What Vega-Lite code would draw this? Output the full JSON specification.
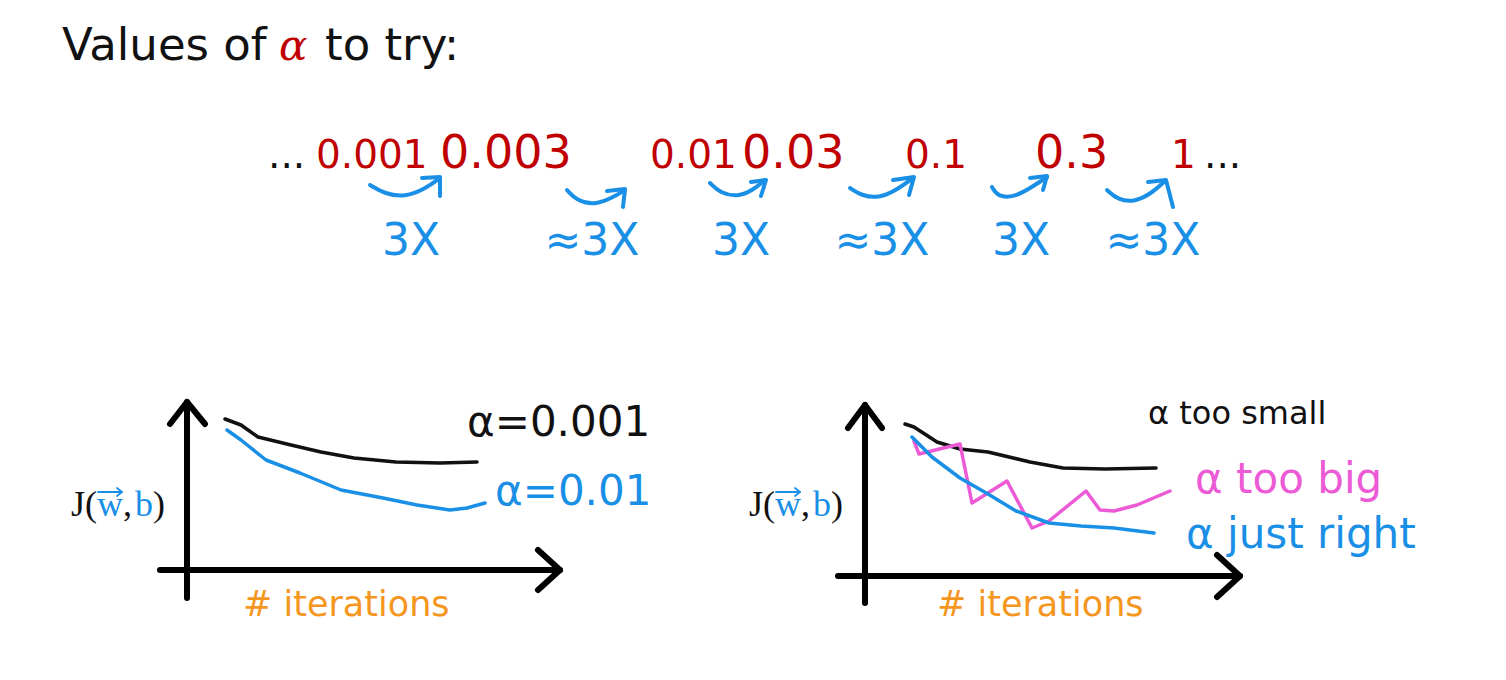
{
  "$schema": "https://vega.github.io/schema/vega-lite/v6.json",
  "width": 1506,
  "height": 680,
  "padding": 0,
  "autosize": {"type": "fit", "contains": "padding"},
  "background": "white",
  "config": {"view": {"stroke": null}},
  "datasets": {
    "texts": [
      {"g": "title", "role": "text", "t": "Values of", "x": 62, "y": 60},
      {"g": "title", "role": "text", "t": "to try:", "x": 325, "y": 60},
      {"g": "titleAlpha", "role": "alpha", "t": "α", "x": 279, "y": 60},
      {"g": "typed", "role": "text", "t": "...", "x": 268, "y": 168},
      {"g": "typed", "role": "alpha", "t": "0.001", "x": 316, "y": 168},
      {"g": "typed", "role": "alpha", "t": "0.01", "x": 650, "y": 168},
      {"g": "typed", "role": "alpha", "t": "0.1", "x": 905, "y": 168},
      {"g": "typed", "role": "alpha", "t": "1", "x": 1171, "y": 168},
      {"g": "typed", "role": "text", "t": "...", "x": 1204, "y": 168},
      {"g": "hand", "role": "alpha", "t": "0.003", "x": 440, "y": 168},
      {"g": "hand", "role": "alpha", "t": "0.03", "x": 742, "y": 168},
      {"g": "hand", "role": "alpha", "t": "0.3", "x": 1035, "y": 168},
      {"g": "step", "role": "step", "t": "3X", "x": 411, "y": 255},
      {"g": "step", "role": "step", "t": "≈3X", "x": 592, "y": 255},
      {"g": "step", "role": "step", "t": "3X", "x": 741, "y": 255},
      {"g": "step", "role": "step", "t": "≈3X", "x": 882, "y": 255},
      {"g": "step", "role": "step", "t": "3X", "x": 1021, "y": 255},
      {"g": "step", "role": "step", "t": "≈3X", "x": 1153, "y": 255},
      {"g": "cost", "role": "text", "t": "J(", "x": 71, "y": 516},
      {"g": "cost", "role": "param", "t": "w", "x": 97, "y": 516},
      {"g": "cost", "role": "text", "t": ",", "x": 123, "y": 516},
      {"g": "cost", "role": "param", "t": "b", "x": 135, "y": 516},
      {"g": "cost", "role": "text", "t": ")", "x": 153, "y": 516},
      {"g": "cost", "role": "text", "t": "J(", "x": 749, "y": 516},
      {"g": "cost", "role": "param", "t": "w", "x": 775, "y": 516},
      {"g": "cost", "role": "text", "t": ",", "x": 801, "y": 516},
      {"g": "cost", "role": "param", "t": "b", "x": 813, "y": 516},
      {"g": "cost", "role": "text", "t": ")", "x": 831, "y": 516},
      {"g": "iter", "role": "iter", "t": "# iterations", "x": 243, "y": 616},
      {"g": "iter", "role": "iter", "t": "# iterations", "x": 937, "y": 616},
      {"g": "note", "role": "text", "t": "α=0.001", "x": 467, "y": 436},
      {"g": "note", "role": "step", "t": "α=0.01", "x": 495, "y": 505},
      {"g": "note", "role": "big", "t": "α too big", "x": 1195, "y": 493},
      {"g": "note", "role": "step", "t": "α just right", "x": 1186, "y": 548},
      {"g": "noteSmall", "role": "text", "t": "α too small", "x": 1148, "y": 424}
    ],
    "curves": [
      {"s": "L001", "role": "text", "i": 0, "x": 225, "y": 419},
      {"s": "L001", "role": "text", "i": 1, "x": 241, "y": 425},
      {"s": "L001", "role": "text", "i": 2, "x": 258, "y": 437},
      {"s": "L001", "role": "text", "i": 3, "x": 291, "y": 445},
      {"s": "L001", "role": "text", "i": 4, "x": 321, "y": 452},
      {"s": "L001", "role": "text", "i": 5, "x": 354, "y": 458},
      {"s": "L001", "role": "text", "i": 6, "x": 396, "y": 462},
      {"s": "L001", "role": "text", "i": 7, "x": 440, "y": 463},
      {"s": "L001", "role": "text", "i": 8, "x": 477, "y": 462},
      {"s": "L01", "role": "step", "i": 0, "x": 227, "y": 430},
      {"s": "L01", "role": "step", "i": 1, "x": 241, "y": 440},
      {"s": "L01", "role": "step", "i": 2, "x": 266, "y": 460},
      {"s": "L01", "role": "step", "i": 3, "x": 300, "y": 473},
      {"s": "L01", "role": "step", "i": 4, "x": 341, "y": 490},
      {"s": "L01", "role": "step", "i": 5, "x": 383, "y": 498},
      {"s": "L01", "role": "step", "i": 6, "x": 417, "y": 505},
      {"s": "L01", "role": "step", "i": 7, "x": 450, "y": 510},
      {"s": "L01", "role": "step", "i": 8, "x": 467, "y": 508},
      {"s": "L01", "role": "step", "i": 9, "x": 485, "y": 503},
      {"s": "Rsmall", "role": "text", "i": 0, "x": 905, "y": 424},
      {"s": "Rsmall", "role": "text", "i": 1, "x": 914, "y": 427},
      {"s": "Rsmall", "role": "text", "i": 2, "x": 937, "y": 442},
      {"s": "Rsmall", "role": "text", "i": 3, "x": 960, "y": 449},
      {"s": "Rsmall", "role": "text", "i": 4, "x": 988, "y": 452},
      {"s": "Rsmall", "role": "text", "i": 5, "x": 1030, "y": 462},
      {"s": "Rsmall", "role": "text", "i": 6, "x": 1063, "y": 468},
      {"s": "Rsmall", "role": "text", "i": 7, "x": 1105, "y": 469},
      {"s": "Rsmall", "role": "text", "i": 8, "x": 1156, "y": 468},
      {"s": "Rbig", "role": "big", "i": 0, "x": 914, "y": 441},
      {"s": "Rbig", "role": "big", "i": 1, "x": 919, "y": 454},
      {"s": "Rbig", "role": "big", "i": 2, "x": 960, "y": 444},
      {"s": "Rbig", "role": "big", "i": 3, "x": 972, "y": 503},
      {"s": "Rbig", "role": "big", "i": 4, "x": 1007, "y": 481},
      {"s": "Rbig", "role": "big", "i": 5, "x": 1032, "y": 528},
      {"s": "Rbig", "role": "big", "i": 6, "x": 1049, "y": 521},
      {"s": "Rbig", "role": "big", "i": 7, "x": 1086, "y": 491},
      {"s": "Rbig", "role": "big", "i": 8, "x": 1100, "y": 510},
      {"s": "Rbig", "role": "big", "i": 9, "x": 1114, "y": 511},
      {"s": "Rbig", "role": "big", "i": 10, "x": 1137, "y": 505},
      {"s": "Rbig", "role": "big", "i": 11, "x": 1170, "y": 491},
      {"s": "Rright", "role": "step", "i": 0, "x": 912, "y": 437},
      {"s": "Rright", "role": "step", "i": 1, "x": 932, "y": 457},
      {"s": "Rright", "role": "step", "i": 2, "x": 960, "y": 478},
      {"s": "Rright", "role": "step", "i": 3, "x": 988, "y": 494},
      {"s": "Rright", "role": "step", "i": 4, "x": 1016, "y": 511},
      {"s": "Rright", "role": "step", "i": 5, "x": 1049, "y": 523},
      {"s": "Rright", "role": "step", "i": 6, "x": 1081, "y": 526},
      {"s": "Rright", "role": "step", "i": 7, "x": 1114, "y": 528},
      {"s": "Rright", "role": "step", "i": 8, "x": 1154, "y": 533}
    ],
    "axes": [
      {"p": "Ly", "i": 0, "x": 187, "y": 402},
      {"p": "Ly", "i": 1, "x": 187, "y": 598},
      {"p": "Lyh", "i": 0, "x": 170, "y": 424},
      {"p": "Lyh", "i": 1, "x": 187, "y": 402},
      {"p": "Lyh", "i": 2, "x": 205, "y": 424},
      {"p": "Lx", "i": 0, "x": 160, "y": 570},
      {"p": "Lx", "i": 1, "x": 560, "y": 570},
      {"p": "Lxh", "i": 0, "x": 538, "y": 550},
      {"p": "Lxh", "i": 1, "x": 560, "y": 570},
      {"p": "Lxh", "i": 2, "x": 538, "y": 590},
      {"p": "Ry", "i": 0, "x": 865, "y": 405},
      {"p": "Ry", "i": 1, "x": 865, "y": 603},
      {"p": "Ryh", "i": 0, "x": 848, "y": 428},
      {"p": "Ryh", "i": 1, "x": 865, "y": 405},
      {"p": "Ryh", "i": 2, "x": 882, "y": 428},
      {"p": "Rx", "i": 0, "x": 838, "y": 576},
      {"p": "Rx", "i": 1, "x": 1240, "y": 576},
      {"p": "Rxh", "i": 0, "x": 1217, "y": 555},
      {"p": "Rxh", "i": 1, "x": 1240, "y": 576},
      {"p": "Rxh", "i": 2, "x": 1217, "y": 597}
    ],
    "vecs": [
      {"v": "Lw", "i": 0, "x": 98, "y": 492},
      {"v": "Lw", "i": 1, "x": 122, "y": 492},
      {"v": "Lh", "i": 0, "x": 117, "y": 488},
      {"v": "Lh", "i": 1, "x": 122, "y": 492},
      {"v": "Lh", "i": 2, "x": 117, "y": 496},
      {"v": "Rw", "i": 0, "x": 776, "y": 492},
      {"v": "Rw", "i": 1, "x": 800, "y": 492},
      {"v": "Rh", "i": 0, "x": 795, "y": 488},
      {"v": "Rh", "i": 1, "x": 800, "y": 492},
      {"v": "Rh", "i": 2, "x": 795, "y": 496}
    ],
    "arrows": [
      {"a": "A1", "i": 0, "x": 370, "y": 185},
      {"a": "A1", "i": 1, "x": 385, "y": 194},
      {"a": "A1", "i": 2, "x": 405, "y": 197},
      {"a": "A1", "i": 3, "x": 425, "y": 189},
      {"a": "A1", "i": 4, "x": 440, "y": 178},
      {"a": "A2", "i": 0, "x": 567, "y": 190},
      {"a": "A2", "i": 1, "x": 577, "y": 201},
      {"a": "A2", "i": 2, "x": 595, "y": 205},
      {"a": "A2", "i": 3, "x": 612, "y": 198},
      {"a": "A2", "i": 4, "x": 625, "y": 190},
      {"a": "A3", "i": 0, "x": 710, "y": 183},
      {"a": "A3", "i": 1, "x": 720, "y": 193},
      {"a": "A3", "i": 2, "x": 738, "y": 197},
      {"a": "A3", "i": 3, "x": 753, "y": 190},
      {"a": "A3", "i": 4, "x": 765, "y": 180},
      {"a": "A4", "i": 0, "x": 850, "y": 188},
      {"a": "A4", "i": 1, "x": 862, "y": 196},
      {"a": "A4", "i": 2, "x": 880, "y": 198},
      {"a": "A4", "i": 3, "x": 898, "y": 189},
      {"a": "A4", "i": 4, "x": 913, "y": 178},
      {"a": "A5", "i": 0, "x": 992, "y": 187},
      {"a": "A5", "i": 1, "x": 998, "y": 197},
      {"a": "A5", "i": 2, "x": 1015, "y": 197},
      {"a": "A5", "i": 3, "x": 1032, "y": 187},
      {"a": "A5", "i": 4, "x": 1047, "y": 177},
      {"a": "A6", "i": 0, "x": 1107, "y": 190},
      {"a": "A6", "i": 1, "x": 1118, "y": 200},
      {"a": "A6", "i": 2, "x": 1135, "y": 202},
      {"a": "A6", "i": 3, "x": 1152, "y": 193},
      {"a": "A6", "i": 4, "x": 1165, "y": 181}
    ],
    "heads": [
      {"a": "H1", "i": 0, "x": 422, "y": 178},
      {"a": "H1", "i": 1, "x": 440, "y": 177},
      {"a": "H1", "i": 2, "x": 440, "y": 196},
      {"a": "H2", "i": 0, "x": 607, "y": 191},
      {"a": "H2", "i": 1, "x": 625, "y": 189},
      {"a": "H2", "i": 2, "x": 623, "y": 207},
      {"a": "H3", "i": 0, "x": 751, "y": 182},
      {"a": "H3", "i": 1, "x": 766, "y": 180},
      {"a": "H3", "i": 2, "x": 761, "y": 196},
      {"a": "H4", "i": 0, "x": 893, "y": 180},
      {"a": "H4", "i": 1, "x": 914, "y": 177},
      {"a": "H4", "i": 2, "x": 909, "y": 195},
      {"a": "H5", "i": 0, "x": 1030, "y": 178},
      {"a": "H5", "i": 1, "x": 1047, "y": 176},
      {"a": "H5", "i": 2, "x": 1043, "y": 190},
      {"a": "H6", "i": 0, "x": 1148, "y": 182},
      {"a": "H6", "i": 1, "x": 1166, "y": 180},
      {"a": "H6", "i": 2, "x": 1173, "y": 207}
    ]
  },
  "encoding": {
    "x": {"field": "x", "type": "quantitative", "scale": {"domain": [0, 1506], "nice": false, "zero": false}, "axis": null},
    "y": {"field": "y", "type": "quantitative", "scale": {"domain": [0, 680], "nice": false, "zero": false, "reverse": true}, "axis": null}
  },
  "layer": [
    {
      "data": {"name": "axes"},
      "mark": {"type": "line", "color": "#000000", "strokeWidth": 6, "strokeCap": "round", "strokeJoin": "round"},
      "encoding": {"detail": {"field": "p", "type": "nominal"}, "order": {"field": "i", "type": "quantitative"}}
    },
    {
      "data": {"name": "curves"},
      "mark": {"type": "line", "strokeWidth": 3.5, "strokeCap": "round", "strokeJoin": "round", "interpolate": "linear"},
      "encoding": {
        "detail": {"field": "s", "type": "nominal"},
        "order": {"field": "i", "type": "quantitative"},
        "color": {"field": "role", "type": "nominal", "legend": null, "scale": {"domain": ["text", "alpha", "step", "param", "iter", "big"], "range": ["#111111", "#c00000", "#1a8fe6", "#1a8fe6", "#f5961e", "#ec5ad6"]}}
      }
    },
    {
      "data": {"name": "arrows"},
      "mark": {"type": "line", "color": "#1a8fe6", "strokeWidth": 4, "strokeCap": "round", "interpolate": "basis"},
      "encoding": {"detail": {"field": "a", "type": "nominal"}, "order": {"field": "i", "type": "quantitative"}}
    },
    {
      "data": {"name": "heads"},
      "mark": {"type": "line", "color": "#1a8fe6", "strokeWidth": 4, "strokeCap": "round", "strokeJoin": "round"},
      "encoding": {"detail": {"field": "a", "type": "nominal"}, "order": {"field": "i", "type": "quantitative"}}
    },
    {
      "data": {"name": "vecs"},
      "mark": {"type": "line", "color": "#1a8fe6", "strokeWidth": 1.8, "strokeCap": "round", "strokeJoin": "round"},
      "encoding": {"detail": {"field": "v", "type": "nominal"}, "order": {"field": "i", "type": "quantitative"}}
    },
    {
      "data": {"name": "texts"},
      "transform": [{"filter": "datum.g === 'title'"}],
      "mark": {"type": "text", "font": "DejaVu Sans", "fontSize": 45, "align": "left", "baseline": "alphabetic"},
      "encoding": {"text": {"field": "t"}, "color": {"field": "role", "type": "nominal", "legend": null}}
    },
    {
      "data": {"name": "texts"},
      "transform": [{"filter": "datum.g === 'titleAlpha'"}],
      "mark": {"type": "text", "font": "DejaVu Serif", "fontStyle": "italic", "fontSize": 42, "align": "left", "baseline": "alphabetic"},
      "encoding": {"text": {"field": "t"}, "color": {"field": "role", "type": "nominal", "legend": null}}
    },
    {
      "data": {"name": "texts"},
      "transform": [{"filter": "datum.g === 'typed'"}],
      "mark": {"type": "text", "font": "DejaVu Sans", "fontSize": 39, "align": "left", "baseline": "alphabetic"},
      "encoding": {"text": {"field": "t"}, "color": {"field": "role", "type": "nominal", "legend": null}}
    },
    {
      "data": {"name": "texts"},
      "transform": [{"filter": "datum.g === 'hand'"}],
      "mark": {"type": "text", "font": "DejaVu Sans", "fontSize": 46, "align": "left", "baseline": "alphabetic"},
      "encoding": {"text": {"field": "t"}, "color": {"field": "role", "type": "nominal", "legend": null}}
    },
    {
      "data": {"name": "texts"},
      "transform": [{"filter": "datum.g === 'step'"}],
      "mark": {"type": "text", "font": "DejaVu Sans", "fontSize": 44, "align": "center", "baseline": "alphabetic"},
      "encoding": {"text": {"field": "t"}, "color": {"field": "role", "type": "nominal", "legend": null}}
    },
    {
      "data": {"name": "texts"},
      "transform": [{"filter": "datum.g === 'cost'"}],
      "mark": {"type": "text", "font": "Liberation Serif", "fontSize": 36, "align": "left", "baseline": "alphabetic"},
      "encoding": {"text": {"field": "t"}, "color": {"field": "role", "type": "nominal", "legend": null}}
    },
    {
      "data": {"name": "texts"},
      "transform": [{"filter": "datum.g === 'iter'"}],
      "mark": {"type": "text", "font": "DejaVu Sans", "fontSize": 35, "align": "left", "baseline": "alphabetic"},
      "encoding": {"text": {"field": "t"}, "color": {"field": "role", "type": "nominal", "legend": null}}
    },
    {
      "data": {"name": "texts"},
      "transform": [{"filter": "datum.g === 'note'"}],
      "mark": {"type": "text", "font": "DejaVu Sans", "fontSize": 42, "align": "left", "baseline": "alphabetic"},
      "encoding": {"text": {"field": "t"}, "color": {"field": "role", "type": "nominal", "legend": null}}
    },
    {
      "data": {"name": "texts"},
      "transform": [{"filter": "datum.g === 'noteSmall'"}],
      "mark": {"type": "text", "font": "DejaVu Sans", "fontSize": 32, "align": "left", "baseline": "alphabetic"},
      "encoding": {"text": {"field": "t"}, "color": {"field": "role", "type": "nominal", "legend": null}}
    }
  ]
}
